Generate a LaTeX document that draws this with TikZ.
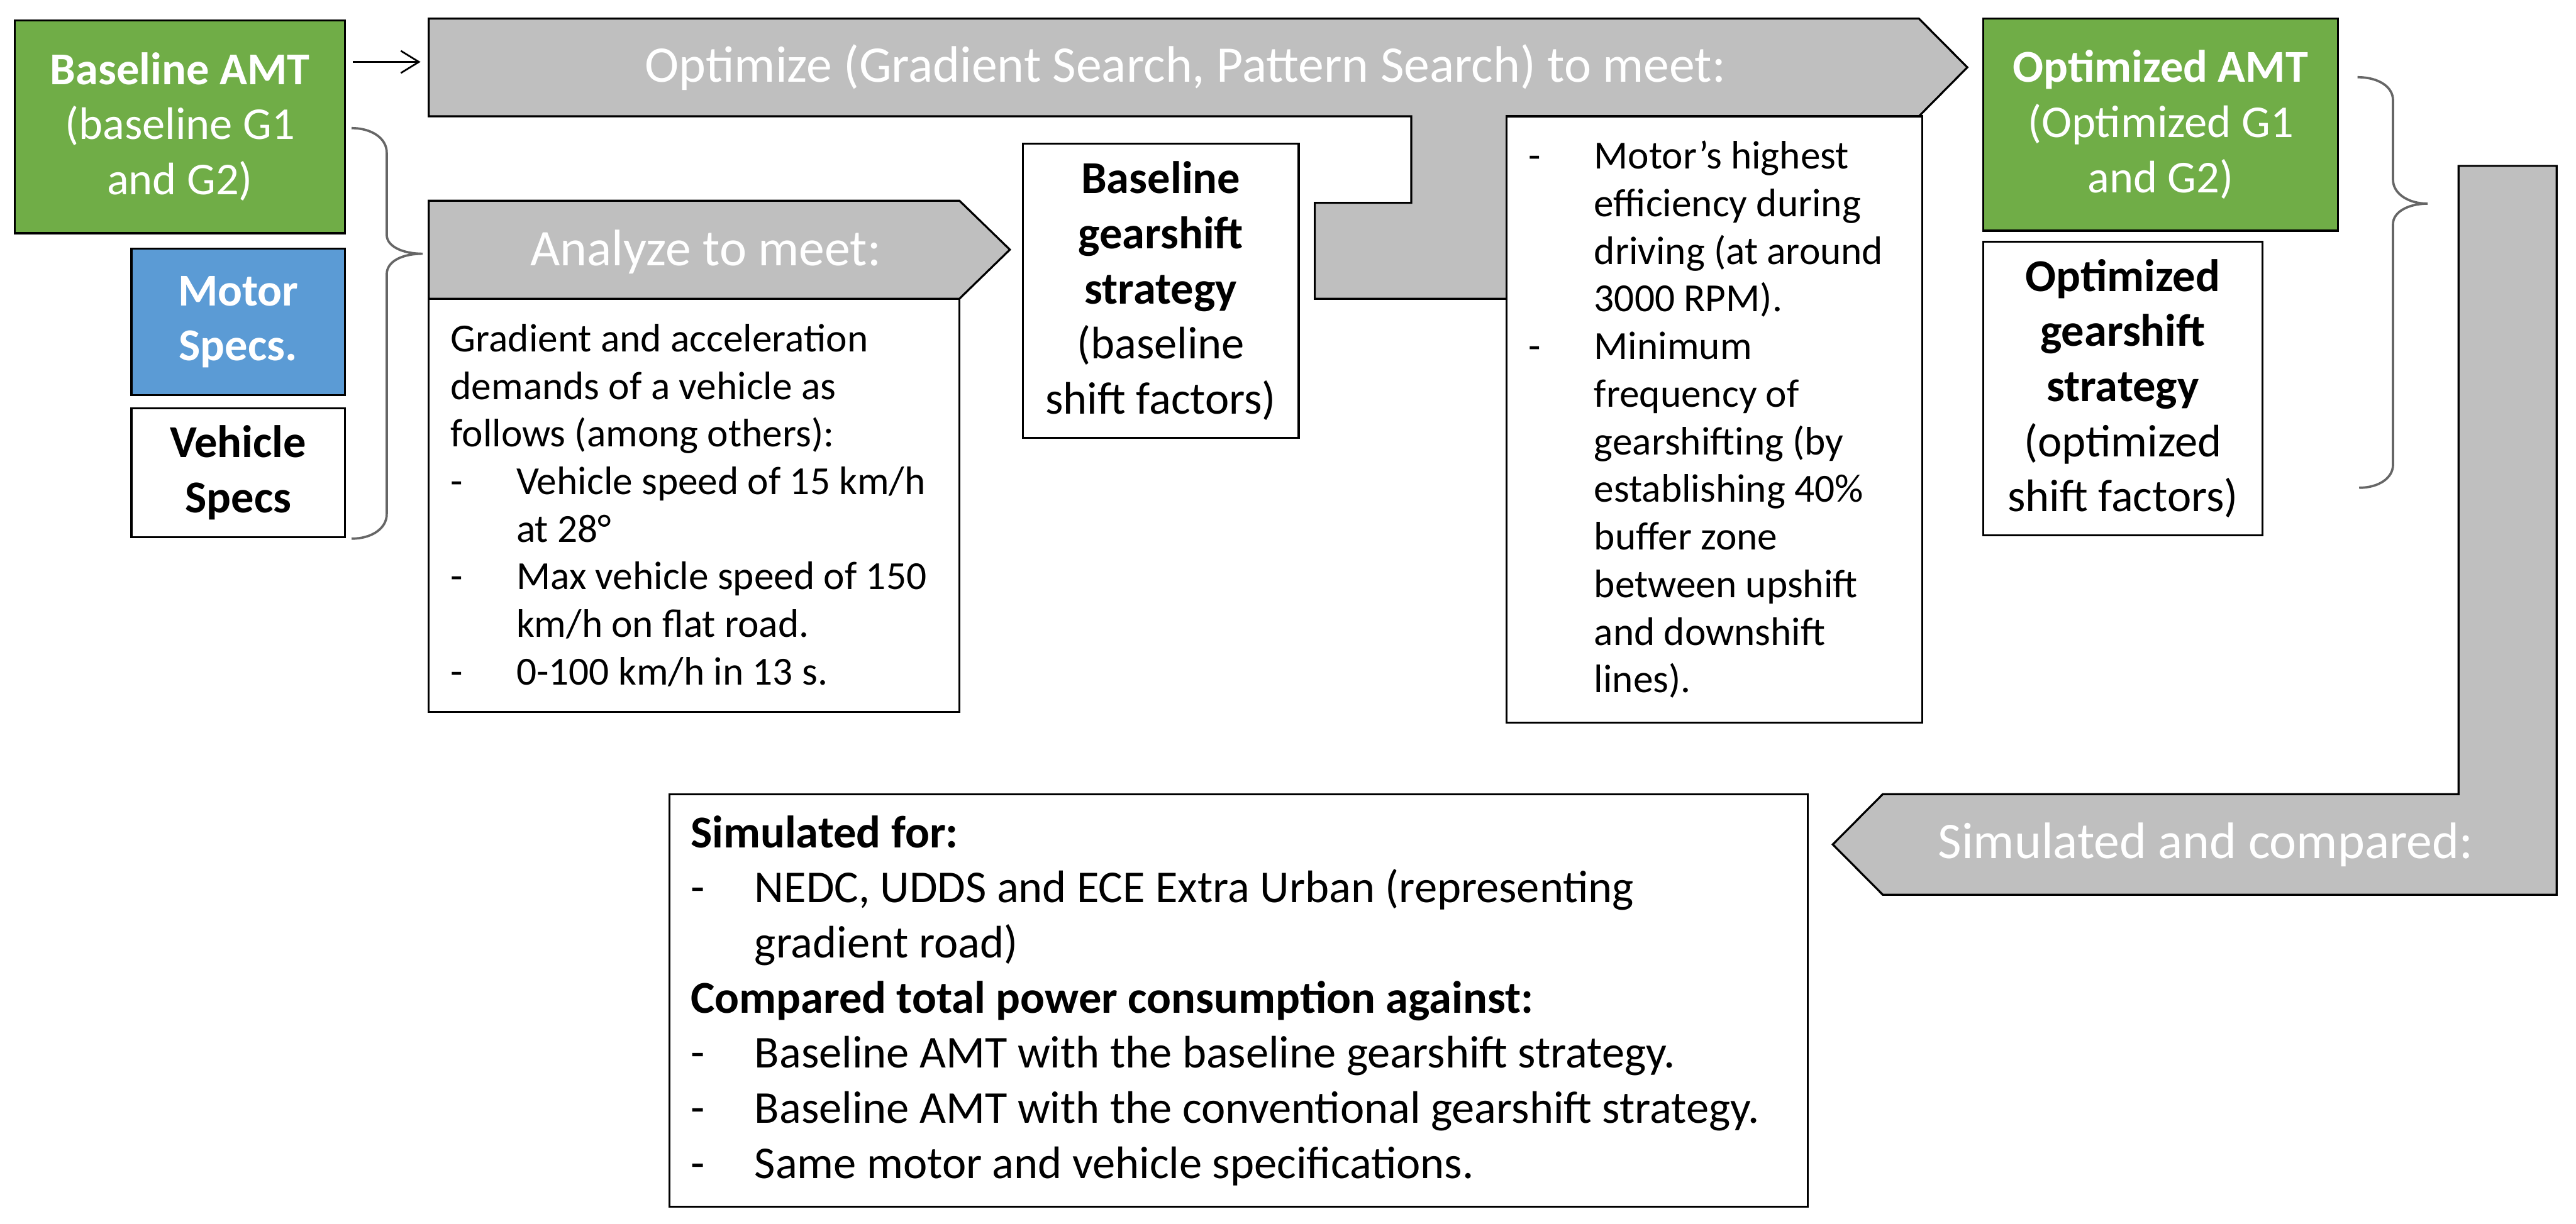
\documentclass[tikz,border=0pt]{standalone}
\usepackage{fontspec}
\setmainfont{Carlito}
\usetikzlibrary{arrows.meta}
\definecolor{gfill}{HTML}{70AD47}
\definecolor{bfill}{HTML}{5B9BD5}
\definecolor{grayfill}{HTML}{BFBFBF}
\newcommand\fbig{\fontsize{17.8}{21.4}\selectfont}
\newcommand\fmid{\fontsize{15.8}{19.1}\selectfont}
\newcommand\fsml{\fontsize{13.8}{16.5}\selectfont}
\newcommand\dashA[1]{\makebox[0.8cm][l]{-}#1}
\newcommand\contA[1]{\hspace*{0.8cm}#1}
\newcommand\dashB[1]{\makebox[0.78cm][l]{-}#1}
\newcommand\contB[1]{\hspace*{0.78cm}#1}
\begin{document}
\begin{tikzpicture}[x=0.02cm,y=-0.02cm,
  bx/.style={draw=black, line width=0.7pt, inner sep=0pt, outer sep=0pt},
  rect/.style n args={4}{minimum width={(#3-#1)*0.02cm}, minimum height={(#4-#2)*0.02cm}, at={({(#1+#3)/2},{(#2+#4)/2})}},
  arrshape/.style={fill=grayfill, draw=black, line width=0.7pt, line join=miter},
  bigtxt/.style={text=white, font=\fbig, inner sep=0pt, anchor=base},
  txt/.style={align=left, inner sep=0pt, anchor=west},
  brace/.style={draw=black!60, line width=0.8pt},
  conn/.style={draw=black, line width=0.6pt, -{Straight Barb[length=0.22cm,width=0.27cm]}}]
\fill[white] (0,0) rectangle (1568,745);
\path[use as bounding box] (0,0) rectangle (1568,745);

% gray process arrows
\filldraw[arrshape] (261,11.3) -- (1168,11.3) -- (1197.5,41) -- (1168,70.8) -- (935,70.8) -- (935,181.9) -- (800.3,181.9) -- (800.3,123.5) -- (859,123.5) -- (859,70.8) -- (261,70.8) -- cycle;
\node[bigtxt] (optT) at (721.5,50) {Optimize (Gradient Search, Pattern Search) to meet:};

\filldraw[arrshape] (261,122.2) -- (584,122.2) -- (614.7,152) -- (584,181.9) -- (261,181.9) -- cycle;
\node[bigtxt] (anaT) at (429.6,161.7) {Analyze to meet:};

\filldraw[arrshape] (1496.5,101) -- (1556.2,101) -- (1556.2,544.8) -- (1146,544.8) -- (1115.6,514.2) -- (1146,483.6) -- (1496.5,483.6) -- cycle;
\node[bigtxt] (simT) at (1342.5,522.8) {Simulated and compared:};

% boxes
\node[bx, fill=gfill, rect={9}{12.3}{210}{142}, text=white, align=center, font=\fmid] (bamt) {\textbf{Baseline AMT}\\(baseline G1\\and G2)};
\node[bx, fill=bfill, rect={80}{151.5}{210}{240.6}, text=white, align=center, font=\fmid\bfseries] (motor) {Motor\\Specs.};
\node[bx, fill=white, rect={80}{248.6}{210}{327}, align=center, font=\fmid\bfseries] (veh) {Vehicle\\Specs};
\node[bx, fill=white, rect={261}{181.9}{584}{433.4}] (anabox) {};
\node[bx, fill=white, rect={622.6}{87.6}{790.5}{266.7}, align=center, font=\fmid] (bgs) {\textbf{Baseline}\\\textbf{gearshift}\\\textbf{strategy}\\(baseline\\shift factors)};
\node[bx, fill=white, rect={917}{70.8}{1170}{440.1}] (motbox) {};
\node[bx, fill=gfill, rect={1207.3}{11.2}{1423}{140.5}, text=white, align=center, font=\fmid] (oamt) {\textbf{Optimized AMT}\\(Optimized G1\\and G2)};
\node[bx, fill=white, rect={1207.3}{147.2}{1377}{326}, align=center, font=\fmid] (ogs) {\textbf{Optimized}\\\textbf{gearshift}\\\textbf{strategy}\\(optimized\\shift factors)};
\node[bx, fill=white, rect={407.5}{483.6}{1100.5}{734.9}] (simbox) {};

% box texts
\node[txt, font=\fsml] (anatxt) at ([xshift=0.26cm]anabox.west) {Gradient and acceleration\\demands of a vehicle as\\follows (among others):\\\dashA{Vehicle speed of 15 km/h}\\\contA{at 28°}\\\dashA{Max vehicle speed of 150}\\\contA{km/h on flat road.}\\\dashA{0-100 km/h in 13 s.}};
\node[txt, font=\fsml] (mottxt) at ([xshift=0.26cm]motbox.west) {\dashA{Motor’s highest}\\\contA{efficiency during}\\\contA{driving (at around}\\\contA{3000 RPM).}\\\dashA{Minimum}\\\contA{frequency of}\\\contA{gearshifting (by}\\\contA{establishing 40\%}\\\contA{buffer zone}\\\contA{between upshift}\\\contA{and downshift}\\\contA{lines).}};
\node[txt, font=\fmid] (simtxt) at ([xshift=0.25cm]simbox.west) {\textbf{Simulated for:}\\\dashB{NEDC, UDDS and ECE Extra Urban (representing}\\\contB{gradient road)}\\\textbf{Compared total power consumption against:}\\\dashB{Baseline AMT with the baseline gearshift strategy.}\\\dashB{Baseline AMT with the conventional gearshift strategy.}\\\dashB{Same motor and vehicle specifications.}};

% connector
\coordinate (arrS) at (214.7,37.7);
\coordinate (arrE) at (256,37.7);
\draw[conn] (arrS) -- (arrE);

% braces
\draw[brace] (214,78) .. controls (226,78) and (235.4,84) .. (235.4,93) -- (235.4,143) .. controls (235.4,150) and (245,154.5) .. (257.3,154.5) .. controls (245,154.5) and (235.4,159) .. (235.4,167) -- (235.4,313) .. controls (235.4,322) and (226,328) .. (214,328);
\draw[brace] (1435,47) .. controls (1448,47) and (1456.6,53) .. (1456.6,61) -- (1456.6,109.4) .. controls (1456.6,118) and (1466,124) .. (1477.7,124) .. controls (1466,124) and (1456.6,129) .. (1456.6,136.4) -- (1456.6,283) .. controls (1456.6,291) and (1448,297) .. (1436,297);
\end{tikzpicture}
\end{document}
